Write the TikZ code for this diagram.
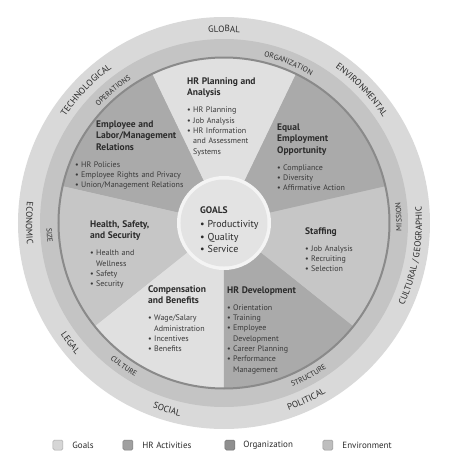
\documentclass[tikz,border=0pt]{standalone}
\usepackage{fontspec}
\setmainfont{PT Sans}
\usepackage{tikz}
\usetikzlibrary{positioning,decorations.text}
\definecolor{envfill}{HTML}{D9D9D9}
\definecolor{orgfill}{HTML}{C4C4C4}
\definecolor{orgline}{HTML}{8A8A8A}
\definecolor{lightact}{HTML}{E0E0E0}
\definecolor{midact}{HTML}{C6C6C6}
\definecolor{darkact}{HTML}{AAAAAA}
\definecolor{goalfill}{HTML}{E3E3E3}
\definecolor{goalhalo}{HTML}{F4F4F4}
\definecolor{ink}{HTML}{2B2B2B}
\definecolor{listink}{HTML}{3A3A3A}
\definecolor{legGoal}{HTML}{D6D6D6}
\definecolor{legAct}{HTML}{A0A0A0}
\definecolor{legOrg}{HTML}{8F8F8F}
\definecolor{legEnv}{HTML}{BEBEBE}

\newcommand\hdfont{\fontsize{9.5}{11.5}\selectfont\bfseries\color{ink}}
\newcommand\lsfont{\fontsize{8}{10.3}\selectfont}
\newcommand\itm{\makebox[6pt][l]{\textbullet}}
\newcommand\ind{\hspace*{6pt}}
\newcommand\envfont{\fontsize{9}{10}\selectfont}
\newcommand\orgfont{\fontsize{7.5}{9}\selectfont}
\def\Rout{206pt}
\def\Renv{184pt}
\def\Ract{165.5pt}

% ring labels: radius, centre angle, font, text
\newcommand\toparc[4]{%
  \path[decorate,decoration={text along path,text align=center,text color=ink,text={|#3|#4}}]
    ({#2+60}:#1) arc[start angle={#2+60}, end angle={#2-60}, radius=#1];}
\newcommand\botarc[4]{%
  \path[decorate,decoration={text along path,text align=center,text color=ink,text={|#3|#4}}]
    ({#2-60}:#1) arc[start angle={#2-60}, end angle={#2+60}, radius=#1];}

\tikzset{
  sector/.style={anchor=base west, inner sep=0pt, text width=130pt, align=left,
    font=\lsfont, text=listink},
  legbox/.style={minimum size=10pt, inner sep=0pt, rounded corners=1.5pt,
    fill=#1, draw=#1!80!black, line width=0.5pt},
  legtext/.style={inner sep=0pt, font=\fontsize{9}{10}\selectfont, text=ink}
}

\begin{document}
\begin{tikzpicture}[x=1pt,y=1pt]
\useasboundingbox[fill=white] (-224,-249) rectangle (224,223);

% rings
\fill[envfill] (0,0) circle[radius=\Rout];
\fill[orgfill] (0,0) circle[radius=\Renv];
\foreach \sc [count=\i from 0] in {lightact,darkact,midact,darkact,lightact,darkact,midact}
  \fill[\sc] (0,0) -- ({-141.43+51.43*\i}:\Ract)
    arc[start angle={-141.43+51.43*\i}, delta angle=51.43, radius=\Ract] -- cycle;
\draw[orgline, line width=2pt] (0,0) circle[radius=\Ract];
\fill[goalhalo] (0,0) circle[radius=47pt];
\fill[goalfill] (0,0) circle[radius=43.5pt];

% environment
\toparc{191pt}{90}{\envfont}{GLOBAL}
\toparc{191pt}{136}{\envfont}{TECHNOLOGICAL}
\toparc{191pt}{44}{\envfont}{ENVIRONMENTAL}
\botarc{198pt}{180}{\envfont}{ECONOMIC}
\botarc{198pt}{-10}{\envfont}{CULTURAL / GEOGRAPHIC}
\botarc{198pt}{218}{\envfont}{LEGAL}
\botarc{198pt}{253}{\envfont}{SOCIAL}
\botarc{198pt}{295}{\envfont}{POLITICAL}

% organization
\toparc{171pt}{68}{\orgfont}{ORGANIZATION}
\toparc{171pt}{130}{\orgfont}{OPERATIONS}
\botarc{177.5pt}{184}{\orgfont}{SIZE}
\botarc{177.5pt}{2}{\orgfont}{MISSION}
\botarc{177.5pt}{235}{\orgfont}{CULTURE}
\botarc{177.5pt}{299}{\orgfont}{STRUCTURE}

% HR activities
\node[sector] (plan) at (-37,139) {{\hdfont HR Planning and\\Analysis\par}\vspace{7pt}
  \itm HR Planning\\\itm Job Analysis\\\itm HR Information\\\ind and Assessment\\\ind Systems};
\node[sector] (eeo) at (53,93) {{\hdfont Equal\\Employment\\Opportunity\par}\vspace{7pt}
  \itm Compliance\\\itm Diversity\\\itm Affirmative Action};
\node[sector] (staff) at (81,-11) {{\hdfont Staffing\par}\vspace{7pt}
  \itm Job Analysis\\\itm Recruiting\\\itm Selection};
\node[sector] (dev) at (3,-70) {{\hdfont HR Development\par}\vspace{7pt}
  \itm Orientation\\\itm Training\\\itm Employee\\\ind Development\\\itm Career Planning\\\itm Performance\\\ind Management};
\node[sector] (comp) at (-76,-69) {{\hdfont Compensation\\and Benefits\par}\vspace{7pt}
  \itm Wage/Salary\\\ind Administration\\\itm Incentives\\\itm Benefits};
\node[sector] (health) at (-134,-4) {{\hdfont Health, Safety,\\and Security\par}\vspace{7pt}
  \itm Health and\\\ind Wellness\\\itm Safety\\\itm Security};
\node[sector] (empl) at (-149,96) {{\hdfont \hspace*{21pt}Employee and\\\hspace*{21pt}Labor/Management\\\hspace*{21pt}Relations\par}\vspace{7pt}
  \itm HR Policies\\\itm Employee Rights and Privacy\\\itm Union/Management Relations};

% goals
\node[sector, text=ink] (goals) at (-24,10) {{\bfseries\fontsize{9.5}{11}\selectfont GOALS\par}\vspace{2.5pt}
  {\fontsize{10}{12.3}\selectfont\makebox[7.5pt][l]{\textbullet}Productivity\\\makebox[7.5pt][l]{\textbullet}Quality\\\makebox[7.5pt][l]{\textbullet}Service\par}};

% legend
\node[legbox=legGoal] (kgoals) at (-166,-222) {};
\node[legtext, right=9pt of kgoals] (tgoals) {Goals};
\node[legbox=legAct] (kact) at (-96,-222) {};
\node[legtext, right=9pt of kact] (tact) {HR Activities};
\node[legbox=legOrg] (korg) at (6,-222) {};
\node[legtext, right=8pt of korg] (torg) {Organization};
\node[legbox=legEnv] (kenv) at (104,-222) {};
\node[legtext, right=9pt of kenv] (tenv) {Environment};
\end{tikzpicture}
\end{document}
